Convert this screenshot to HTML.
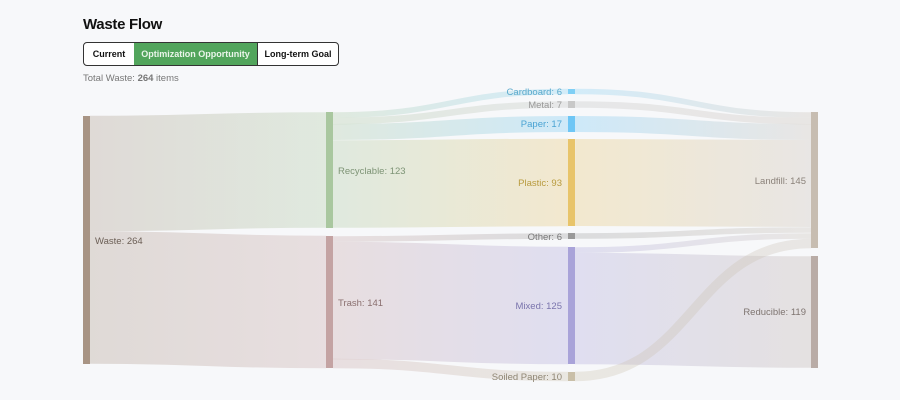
<!DOCTYPE html>
<html><head><style>
body{margin:0;width:900px;height:400px;background:#f7f8fa;font-family:"Liberation Sans",sans-serif;position:relative;overflow:hidden}
h1{position:absolute;left:83px;top:16px;margin:0;font-size:15px;font-weight:bold;color:#111;letter-spacing:-0.3px}
.btns{position:absolute;left:83px;top:42px;height:22px;display:flex;border:1px solid #333;border-radius:4px;overflow:hidden;background:#fff}
.btns div{font-size:9px;font-weight:bold;line-height:22px;text-align:center;color:#111}
.tot{position:absolute;left:83px;top:73px;font-size:9.5px;color:#777}
svg{position:absolute;left:0;top:0}
text{font-family:"Liberation Sans",sans-serif;font-size:9.5px}
</style></head><body>
<h1>Waste Flow</h1>
<div class="btns"><div style="width:50px">Current</div><div style="width:123px;background:#52a55c;color:#eaf5ea">Optimization Opportunity</div><div style="width:80px;border-left:1px solid #333">Long-term Goal</div></div>
<div class="tot">Total Waste: <b>264</b> items</div>
<svg width="900" height="400" viewBox="0 0 900 400">
<defs>
<linearGradient id="g1" gradientUnits="userSpaceOnUse" x1="90" x2="326"><stop offset="0" stop-color="#a89484"/><stop offset="1" stop-color="#a9c79f"/></linearGradient>
<linearGradient id="g2" gradientUnits="userSpaceOnUse" x1="90" x2="326"><stop offset="0" stop-color="#a89484"/><stop offset="1" stop-color="#c4a3a3"/></linearGradient>
<linearGradient id="rc" gradientUnits="userSpaceOnUse" x1="333" x2="568"><stop offset="0" stop-color="#a9c79f"/><stop offset="1" stop-color="#7fcff5"/></linearGradient>
<linearGradient id="rm" gradientUnits="userSpaceOnUse" x1="333" x2="568"><stop offset="0" stop-color="#a9c79f"/><stop offset="1" stop-color="#c0c0c0"/></linearGradient>
<linearGradient id="rp" gradientUnits="userSpaceOnUse" x1="333" x2="568"><stop offset="0" stop-color="#a9c79f"/><stop offset="1" stop-color="#6ec6f5"/></linearGradient>
<linearGradient id="rl" gradientUnits="userSpaceOnUse" x1="333" x2="568"><stop offset="0" stop-color="#a9c79f"/><stop offset="1" stop-color="#e8c46a"/></linearGradient>
<linearGradient id="to" gradientUnits="userSpaceOnUse" x1="333" x2="568"><stop offset="0" stop-color="#c4a3a3"/><stop offset="1" stop-color="#999"/></linearGradient>
<linearGradient id="tm" gradientUnits="userSpaceOnUse" x1="333" x2="568"><stop offset="0" stop-color="#c4a3a3"/><stop offset="1" stop-color="#a9a3d9"/></linearGradient>
<linearGradient id="ts" gradientUnits="userSpaceOnUse" x1="333" x2="568"><stop offset="0" stop-color="#c4a3a3"/><stop offset="1" stop-color="#c9bfa8"/></linearGradient>
<linearGradient id="cl" gradientUnits="userSpaceOnUse" x1="575" x2="811"><stop offset="0" stop-color="#7fcff5"/><stop offset="1" stop-color="#c7bdb1"/></linearGradient>
<linearGradient id="ml" gradientUnits="userSpaceOnUse" x1="575" x2="811"><stop offset="0" stop-color="#c0c0c0"/><stop offset="1" stop-color="#c7bdb1"/></linearGradient>
<linearGradient id="pl" gradientUnits="userSpaceOnUse" x1="575" x2="811"><stop offset="0" stop-color="#6ec6f5"/><stop offset="1" stop-color="#c7bdb1"/></linearGradient>
<linearGradient id="ll" gradientUnits="userSpaceOnUse" x1="575" x2="811"><stop offset="0" stop-color="#e8c46a"/><stop offset="1" stop-color="#c7bdb1"/></linearGradient>
<linearGradient id="ol" gradientUnits="userSpaceOnUse" x1="575" x2="811"><stop offset="0" stop-color="#999"/><stop offset="1" stop-color="#c7bdb1"/></linearGradient>
<linearGradient id="xl" gradientUnits="userSpaceOnUse" x1="575" x2="811"><stop offset="0" stop-color="#a9a3d9"/><stop offset="1" stop-color="#c7bdb1"/></linearGradient>
<linearGradient id="xr" gradientUnits="userSpaceOnUse" x1="575" x2="811"><stop offset="0" stop-color="#a9a3d9"/><stop offset="1" stop-color="#b9aca6"/></linearGradient>
<linearGradient id="sl" gradientUnits="userSpaceOnUse" x1="575" x2="811"><stop offset="0" stop-color="#c9bfa8"/><stop offset="1" stop-color="#c7bdb1"/></linearGradient>
</defs>
<g fill="none" stroke-opacity="0.3">
<path d="M90,173.5 C208,173.5 208,170 326,170" stroke="url(#g1)" stroke-width="115.5"/>
<path d="M90,297.5 C208,297.5 208,302 326,302" stroke="url(#g2)" stroke-width="132.5"/>
<path d="M333,115 C450,115 450,91.5 568,91.5" stroke="url(#rc)" stroke-width="5.6"/>
<path d="M333,121 C450,121 450,104.5 568,104.5" stroke="url(#rm)" stroke-width="6.6"/>
<path d="M333,132 C450,132 450,124 568,124" stroke="url(#rp)" stroke-width="16"/>
<path d="M333,184 C450,184 450,182.5 568,182.5" stroke="url(#rl)" stroke-width="87.5"/>
<path d="M333,239 C450,239 450,236 568,236" stroke="url(#to)" stroke-width="5.6"/>
<path d="M333,300.5 C450,300.5 450,305.5 568,305.5" stroke="url(#tm)" stroke-width="117.5"/>
<path d="M333,363.5 C450,363.5 450,376.5 568,376.5" stroke="url(#ts)" stroke-width="9.4"/>
<path d="M575,91.5 C693,91.5 693,115 811,115" stroke="url(#cl)" stroke-width="5.6"/>
<path d="M575,104.5 C693,104.5 693,121 811,121" stroke="url(#ml)" stroke-width="6.6"/>
<path d="M575,124 C693,124 693,132 811,132" stroke="url(#pl)" stroke-width="16"/>
<path d="M575,182.5 C693,182.5 693,183.5 811,183.5" stroke="url(#ll)" stroke-width="87"/>
<path d="M575,236 C693,236 693,230 811,230" stroke="url(#ol)" stroke-width="5.6"/>
<path d="M575,250 C693,250 693,236 811,236" stroke="url(#xl)" stroke-width="5.6"/>
<path d="M575,308.5 C693,308.5 693,312 811,312" stroke="url(#xr)" stroke-width="111.5"/>
<path d="M575,376.5 C693,376.5 693,243.5 811,243.5" stroke="url(#sl)" stroke-width="9.4"/>
</g>
<rect x="83" y="116" width="7" height="248" fill="#a89484"/>
<rect x="326" y="112" width="7" height="116" fill="#a9c79f"/>
<rect x="326" y="236" width="7" height="132" fill="#c4a3a3"/>
<rect x="568" y="89" width="7" height="5" fill="#7fcff5"/>
<rect x="568" y="101" width="7" height="7" fill="#c8c8c8"/>
<rect x="568" y="116" width="7" height="16" fill="#6ec6f5"/>
<rect x="568" y="139" width="7" height="87" fill="#e8c46a"/>
<rect x="568" y="233" width="7" height="6" fill="#999"/>
<rect x="568" y="247" width="7" height="117" fill="#a9a3d9"/>
<rect x="568" y="372" width="7" height="9" fill="#c9bfa8"/>
<rect x="811" y="112" width="7" height="136" fill="#c7bdb1"/>
<rect x="811" y="256" width="7" height="112" fill="#b9aca6"/>
<text x="95" y="244" fill="#6b5e55">Waste: 264</text>
<text x="338" y="174" fill="#7e9476">Recyclable: 123</text>
<text x="338" y="306" fill="#8a6f6f">Trash: 141</text>
<g text-anchor="end">
<text x="562" y="95" fill="#5aa9cc">Cardboard: 6</text>
<text x="562" y="108" fill="#999">Metal: 7</text>
<text x="562" y="127" fill="#4aa3d3">Paper: 17</text>
<text x="562" y="186" fill="#b89a3e">Plastic: 93</text>
<text x="562" y="240" fill="#777">Other: 6</text>
<text x="562" y="309" fill="#7a74ad">Mixed: 125</text>
<text x="562" y="380" fill="#8f8674">Soiled Paper: 10</text>
<text x="806" y="184" fill="#8b827a">Landfill: 145</text>
<text x="806" y="315" fill="#7e7470">Reducible: 119</text>
</g>
</svg>
</body></html>
